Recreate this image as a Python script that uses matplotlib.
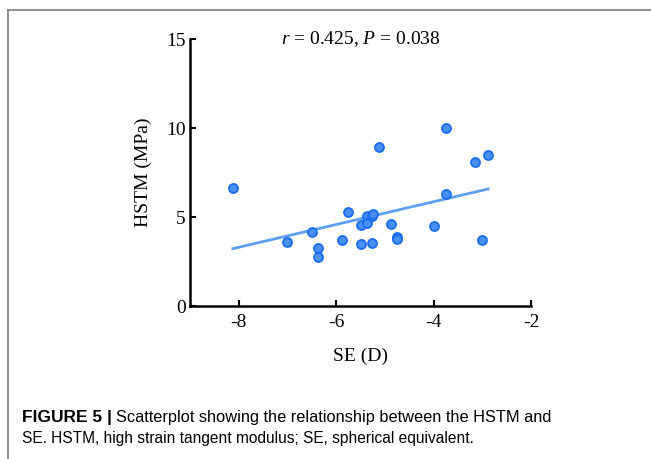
import numpy as np
import matplotlib
matplotlib.use("Agg")
import matplotlib.pyplot as plt
from matplotlib.lines import Line2D

# ---- data ----
se = [-8.12, -7.01, -6.49, -6.38, -6.38, -5.87, -5.75, -5.50, -5.50, -5.37,
      -5.37, -5.26, -5.26, -5.24, -5.13, -4.88, -4.75, -4.75, -4.00, -3.75,
      -3.75, -3.14, -3.00, -2.88]
hstm = [6.65, 3.60, 4.14, 3.24, 2.75, 3.69, 5.28, 3.46, 4.53, 5.06,
        4.66, 3.52, 5.06, 5.15, 8.93, 4.60, 3.86, 3.75, 4.49, 9.98,
        6.27, 8.07, 3.71, 8.48]
fit_slope = 0.64
fit_intercept = 8.42
x_ticks = [-8, -6, -4, -2]
y_ticks = [0, 5, 10, 15]
stat_text = r"$\mathit{r}$ = 0.425, $\mathit{P}$ = 0.038"
x_label = "SE (D)"
y_label = "HSTM (MPa)"
caption_bold = "FIGURE 5 |"
caption_line1 = "Scatterplot showing the relationship between the HSTM and"
caption_line2 = "SE. HSTM, high strain tangent modulus; SE, spherical equivalent."

plt.rcParams['mathtext.fontset'] = 'custom'
plt.rcParams['mathtext.rm'] = 'Liberation Serif'
plt.rcParams['mathtext.it'] = 'Liberation Serif:italic'

serif = ['Liberation Serif', 'DejaVu Serif']
capfont = ['Liberation Sans Narrow', 'Liberation Sans', 'DejaVu Sans']

fig = plt.figure(figsize=(6.51, 4.59), dpi=100)
ax = fig.add_axes([0.2919, 0.3333, 0.5238, 0.5817])

x_fit = np.array([min(se), max(se)])
ax.plot(x_fit, fit_intercept + fit_slope * x_fit, color='#5e9ff2', lw=2.0, zorder=2)
ax.scatter(se, hstm, s=42, facecolor='#4a90f2', edgecolor='#1a6cf0', linewidth=1.3, zorder=3)

ax.set_xlim(-9, -2)
ax.set_ylim(0, 15)
ax.set_xticks(x_ticks)
ax.set_yticks(y_ticks)
ax.set_xticklabels([str(t) for t in x_ticks], fontfamily=serif, fontsize=14)
ax.set_yticklabels([str(t) for t in y_ticks], fontfamily=serif, fontsize=14)
ax.tick_params(axis='both', direction='in', length=4, width=1.5, color='black')
ax.tick_params(axis='x', pad=6)
ax.tick_params(axis='y', pad=3)
for s in ['top', 'right']:
    ax.spines[s].set_visible(False)
for s in ['left', 'bottom']:
    ax.spines[s].set_linewidth(1.8)

ax.set_xlabel(x_label, fontfamily=serif, fontsize=14, labelpad=12)
ax.set_ylabel(y_label, fontfamily=serif, fontsize=14, labelpad=10)
ax.text(0.5, 1.0, stat_text, transform=ax.transAxes, ha='center', va='center',
        fontfamily=serif, fontsize=14)

# frame lines
fig.add_artist(Line2D([8/651, 1.0], [449/459, 449/459], color='#7a7a7a', lw=1.2))
fig.add_artist(Line2D([8/651, 8/651], [0.0, 449/459], color='#7a7a7a', lw=1.2))

# caption
x0 = 22/651
tb = fig.text(x0, 37/459, caption_bold, fontfamily=capfont, fontweight='bold', fontsize=12.5,
              va='baseline', ha='left')
fig.canvas.draw()
r = fig.canvas.get_renderer()
bb = tb.get_window_extent(r)
fig.text(bb.x1 / fig.bbox.width + 4/651, 37/459, caption_line1, fontfamily=capfont, fontsize=11.8,
         va='baseline', ha='left')
fig.text(x0, 16/459, caption_line2, fontfamily=capfont, fontsize=11.2, va='baseline', ha='left')

fig.savefig('out.png', dpi=100)
